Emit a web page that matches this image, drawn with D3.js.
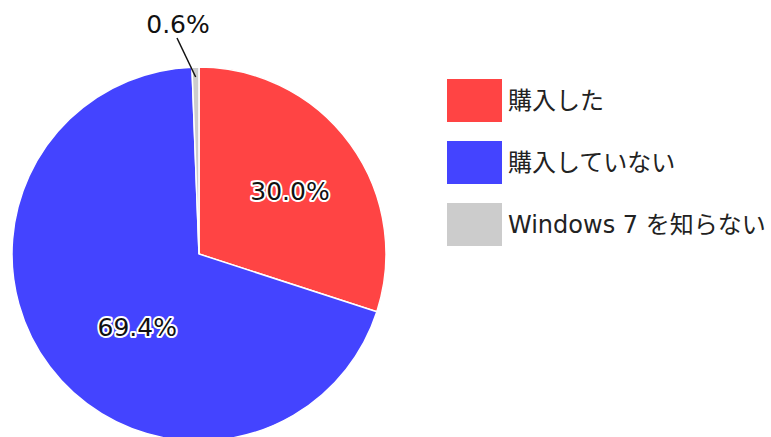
<!DOCTYPE html>
<html>
<head>
<meta charset="utf-8">
<script src="https://cdn.jsdelivr.net/npm/d3@7"></script>
<style>
  body { margin: 0; background: #fff; }
  svg { display: block; font-family: "DejaVu Sans", Verdana, "Noto Sans CJK JP", sans-serif; }
  .lbl { font-size: 25px; fill: #111; paint-order: stroke; stroke: #fff; stroke-width: 4px; stroke-linejoin: round; }
  .leg { font-size: 24px; fill: #222; }
</style>
</head>
<body>
<svg id="canvas" width="771" height="437"></svg>
<script>
var categories = ["購入した", "購入していない", "Windows 7 を知らない"];
var values = [30.0, 69.4, 0.6];
var labels = ["30.0%", "69.4%", "0.6%"];
var colors = ["#ff4444", "#4444ff", "#cccccc"];

var svg = d3.select("#canvas");
var center = {x: 199, y: 254};
var radius = 187;

var pie = d3.pie().sort(null).value(function(d) { return d; });
var arcs = pie(values);
var arc = d3.arc().innerRadius(0).outerRadius(radius);
var labelArc = d3.arc().innerRadius(radius * 0.55).outerRadius(radius * 0.6);

var g = svg.append("g")
  .attr("transform", "translate(" + center.x + "," + center.y + ")");

g.selectAll("path")
  .data(arcs)
  .enter().append("path")
  .attr("d", arc)
  .attr("fill", function(d, i) { return colors[i]; })
  .attr("stroke", "#fff")
  .attr("stroke-width", 1.5);

// labels inside the big slices (nudged a little like the original)
var nudge = [[4, 0], [24, 8]];
g.selectAll("text.in")
  .data(arcs.filter(function(d) { return d.data > 5; }))
  .enter().append("text")
  .attr("class", "lbl")
  .attr("text-anchor", "middle")
  .attr("dy", "0.36em")
  .attr("transform", function(d) {
    var c = labelArc.centroid(d);
    var n = nudge[d.index];
    return "translate(" + (c[0] + n[0]) + "," + (c[1] + n[1]) + ")";
  })
  .text(function(d) { return labels[d.index]; });

// small slice gets a leader line
var small = arcs[2];
var mid = (small.startAngle + small.endAngle) / 2;
var p1 = [Math.sin(mid) * (radius - 10), -Math.cos(mid) * (radius - 10)];
var p2 = [-22, -216];
g.append("line")
  .attr("x1", p1[0]).attr("y1", p1[1])
  .attr("x2", p2[0]).attr("y2", p2[1])
  .attr("stroke", "#111")
  .attr("stroke-width", 1.5);
g.append("text")
  .attr("class", "lbl")
  .attr("text-anchor", "middle")
  .attr("x", -21).attr("y", -221)
  .text(labels[2]);

// legend
var legend = svg.append("g").attr("transform", "translate(447,79)");
var item = legend.selectAll("g")
  .data(categories)
  .enter().append("g")
  .attr("transform", function(d, i) { return "translate(0," + (i * 62) + ")"; });
item.append("rect")
  .attr("width", 55).attr("height", 43)
  .attr("fill", function(d, i) { return colors[i]; });
item.append("text")
  .attr("class", "leg")
  .attr("x", 61).attr("y", 22)
  .attr("dy", "0.35em")
  .text(function(d) { return d; });
</script>
</body>
</html>
